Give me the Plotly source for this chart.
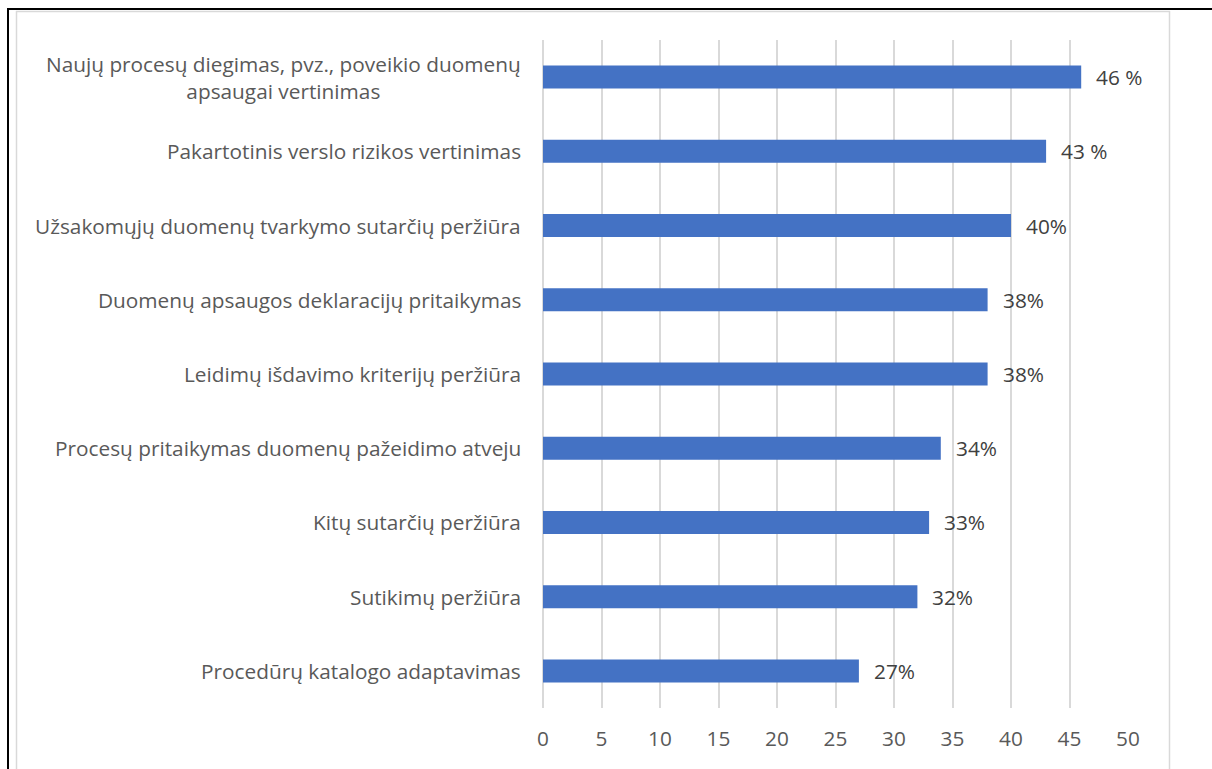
import plotly.graph_objects as go

categories = [
    "Naujų procesų diegimas, pvz., poveikio duomenų<br>apsaugai vertinimas",
    "Pakartotinis verslo rizikos vertinimas",
    "Užsakomųjų duomenų tvarkymo sutarčių peržiūra",
    "Duomenų apsaugos deklaracijų pritaikymas",
    "Leidimų išdavimo kriterijų peržiūra",
    "Procesų pritaikymas duomenų pažeidimo atveju",
    "Kitų sutarčių peržiūra",
    "Sutikimų peržiūra",
    "Procedūrų katalogo adaptavimas",
]
values = [46, 43, 40, 38, 38, 34, 33, 32, 27]
value_labels = ["46 %", "43 %", "40%", "38%", "38%", "34%", "33%", "32%", "27%"]
x_ticks = [0, 5, 10, 15, 20, 25, 30, 35, 40, 45, 50]

FONT = "Open Sans"
FS = 20.8
W, H = 1212, 769
L, R, T, B = 543, 84, 40, 61
PW, PH = W - L - R, H - T - B

def px(x):
    return (x - L) / PW

def py(y):
    return (H - B - y) / PH

fig = go.Figure()
fig.add_trace(go.Bar(
    x=values, y=categories, orientation="h",
    marker=dict(color="#4472C4", line=dict(width=0)),
    width=0.31, hoverinfo="skip",
))

annotations = []
for c, v, t in zip(categories, values, value_labels):
    annotations.append(dict(x=v, y=c, xref="x", yref="y", text=t, showarrow=False,
                            xanchor="left", xshift=13, font=dict(family=FONT, size=FS, color="#404040")))
    annotations.append(dict(x=0, y=c, xref="paper", yref="y", text=c, showarrow=False,
                            xanchor="right", xshift=-20, align="center",
                            font=dict(family=FONT, size=FS, color="#595959")))

shapes = [
    dict(type="line", xref="paper", yref="paper", x0=px(8), x1=px(8), y0=py(8), y1=py(775),
         line=dict(color="black", width=2)),
    dict(type="line", xref="paper", yref="paper", x0=px(7), x1=px(1215), y0=py(9), y1=py(9),
         line=dict(color="black", width=2)),
    dict(type="line", xref="paper", yref="paper", x0=px(16.5), x1=px(16.5), y0=py(11), y1=py(775),
         line=dict(color="#d9d9d9", width=1.5)),
    dict(type="line", xref="paper", yref="paper", x0=px(16), x1=px(1170), y0=py(11.5), y1=py(11.5),
         line=dict(color="#d9d9d9", width=1.5)),
    dict(type="line", xref="paper", yref="paper", x0=px(1169.5), x1=px(1169.5), y0=py(11), y1=py(775),
         line=dict(color="#d9d9d9", width=1.5)),
]

fig.update_layout(
    width=W, height=H,
    margin=dict(l=L, r=R, t=T, b=B, pad=0),
    paper_bgcolor="white", plot_bgcolor="white",
    showlegend=False,
    annotations=annotations,
    shapes=shapes,
    font=dict(family=FONT, size=FS, color="#595959"),
    xaxis=dict(range=[0, 50], tickvals=x_ticks, showgrid=True, gridcolor="#d9d9d9", gridwidth=1.5,
               zeroline=True, zerolinecolor="#d9d9d9", zerolinewidth=1.5,
               showline=False, ticks="", ticklabelstandoff=16,
               tickfont=dict(family=FONT, size=FS, color="#595959"), fixedrange=True),
    yaxis=dict(categoryorder="array", categoryarray=categories, autorange="reversed",
               showticklabels=False, showgrid=False, zeroline=False, showline=False, ticks=""),
)

fig.write_html("out.html")
